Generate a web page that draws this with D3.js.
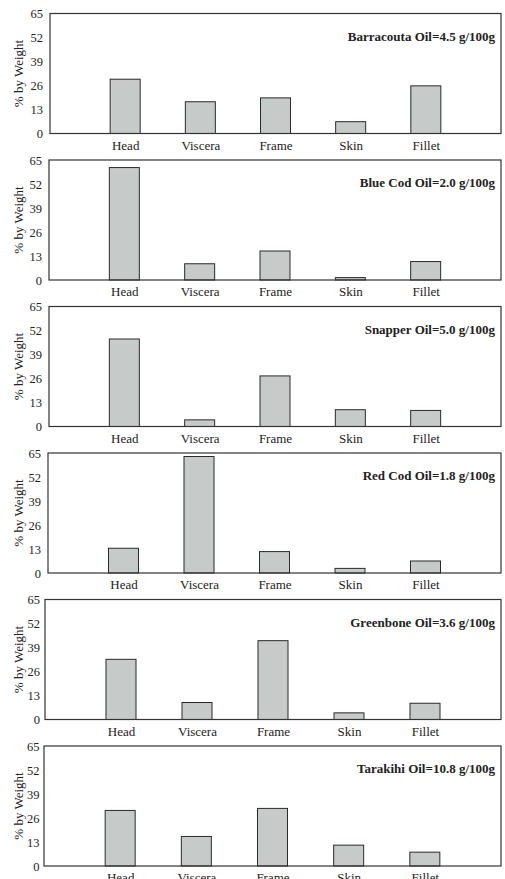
<!DOCTYPE html>
<html lang="en">
<head>
    <meta charset="UTF-8">
    <title>Oil distribution by body part</title>
    <script src="https://cdnjs.cloudflare.com/ajax/libs/d3/7.8.5/d3.min.js"></script>
    <style>
        body { margin: 0; background: #fff; }
    </style>
</head>
<body>
<div id="chart"></div>
<script>
    // data
    var categories = ["Head", "Viscera", "Frame", "Skin", "Fillet"];
    var species = ["Barracouta", "Blue Cod", "Snapper", "Red Cod", "Greenbone", "Tarakihi"];
    var oilContent = ["4.5", "2.0", "5.0", "1.8", "3.6", "10.8"];
    var yTicks = [0, 13, 26, 39, 52, 65];

    var barracouta = [29.4, 17.2, 19.3, 6.4, 25.8];
    var blueCod = [60.9, 8.8, 15.7, 1.3, 10.0];
    var snapper = [47.4, 3.6, 27.4, 9.1, 8.7];
    var redCod = [13.4, 63.1, 11.6, 2.5, 6.5];
    var greenbone = [32.6, 9.2, 42.7, 3.6, 8.8];
    var tarakihi = [30.1, 16.0, 31.2, 11.3, 7.5];

    var series = [barracouta, blueCod, snapper, redCod, greenbone, tarakihi];

    // layout (the scan is slightly skewed, so the frames drift left going down)
    var W = 505, H = 879;
    var panelLeft = [50, 49, 49, 48, 45, 44];
    var tickPad = [7, 7, 7, 7, 5, 4.5];
    var panelRight = 501;
    var firstTop = 13.5, panelStep = 146.5, plotH = 120;
    var serif = "'Liberation Serif', 'Times New Roman', Times, serif";

    var svg = d3.select("#chart").append("svg")
            .attr("width", W)
            .attr("height", H)
            .style("font-family", serif);

    var y = d3.scaleLinear().domain([0, 65]).range([plotH, 0]);

    series.forEach(function (vals, i) {
        var left = panelLeft[i];
        var plotW = panelRight - left;
        var top = firstTop + i * panelStep;

        var x = d3.scalePoint().domain(categories).range([0, plotW]).padding(1);

        var g = svg.append("g").attr("transform", "translate(" + left + "," + top + ")");

        var yAxis = g.append("g")
                .call(d3.axisLeft(y).tickValues(yTicks).tickSize(0).tickPadding(tickPad[i]))
                .attr("font-family", null)
                .attr("font-size", null);
        yAxis.select(".domain").remove();
        yAxis.selectAll("text")
                .style("font-family", serif)
                .style("font-size", "12.5px")
                .style("fill", "#222");

        var xAxis = g.append("g")
                .attr("transform", "translate(0," + plotH + ")")
                .call(d3.axisBottom(x).tickSize(0).tickPadding(7))
                .attr("font-family", null)
                .attr("font-size", null);
        xAxis.select(".domain").remove();
        xAxis.selectAll("text")
                .style("font-family", serif)
                .style("font-size", "13px")
                .style("fill", "#222");

        g.selectAll("rect.bar")
                .data(vals)
                .enter()
                .append("rect")
                .attr("class", "bar")
                .attr("x", function (d, j) { return x(categories[j]) - 15; })
                .attr("y", function (d) { return y(d); })
                .attr("width", 30)
                .attr("height", function (d) { return plotH - y(d); })
                .style("fill", "#c6cbc9")
                .style("stroke", "#2a2a2a")
                .style("stroke-width", 1);

        // frame
        g.append("rect")
                .attr("x", 0)
                .attr("y", 0)
                .attr("width", plotW)
                .attr("height", plotH)
                .style("fill", "none")
                .style("stroke", "#333")
                .style("stroke-width", 1.2);

        g.append("text")
                .attr("x", plotW - 6)
                .attr("y", 27)
                .attr("text-anchor", "end")
                .style("font-family", serif)
                .style("font-size", "13px")
                .style("font-weight", "bold")
                .style("fill", "#222")
                .text(species[i] + " Oil=" + oilContent[i] + " g/100g");

        g.append("text")
                .attr("transform", "translate(" + (18 - left) + "," + (plotH / 2) + ") rotate(-90)")
                .attr("text-anchor", "middle")
                .attr("dy", "0.35em")
                .style("font-family", serif)
                .style("font-size", "13px")
                .style("fill", "#222")
                .text("% by Weight");
    });
</script>
</body>
</html>
